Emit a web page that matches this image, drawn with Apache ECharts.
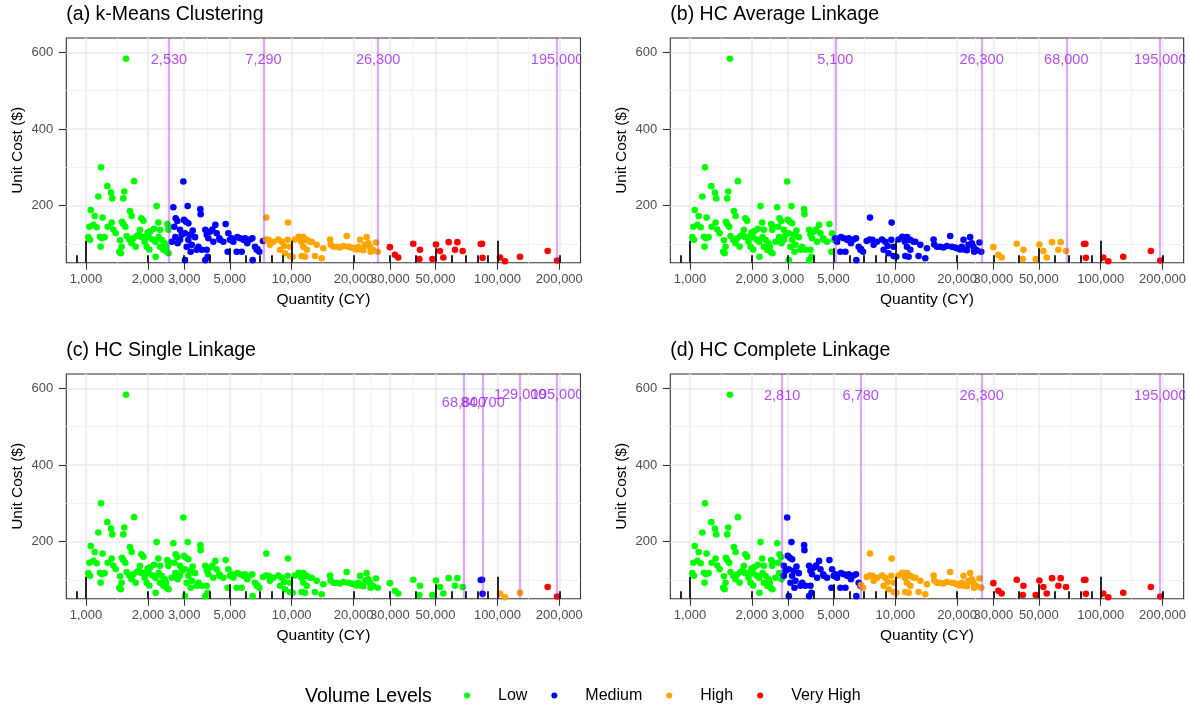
<!DOCTYPE html>
<html><head><meta charset="utf-8">
<script src="https://cdn.jsdelivr.net/npm/echarts@6/dist/echarts.min.js"></script>
<style>html,body{margin:0;padding:0;background:#fff}#chart{width:1189px;height:710px}</style>
</head><body><div id="chart"></div>
<script>
// ---------------- data ----------------
const quantity = [
 1183,1270,1323,1343,1148,1054,1102,1205,1086,1038,1026,1046,1170,1196,1232,1178,1127,1275,1333,1358,
 1394,1496,1518,1553,1536,1518,1712,1636,1667,1858,1900,1830,1763,1865,1921,1994,2024,2062,2141,2206,
 2247,2290,2109,2173,2256,2333,2412,2448,2486,2514,2520,1463,1490,1452,1576,1624,1667,1699,1744,1810,
 1928,1972,2032,2181,2290,2377,2467,2520,1565,1475,
 2658,2973,3121,2729,2780,2688,2864,2995,3063,3144,3029,3203,3300,3388,2719,2609,2790,3086,3227,3451,
 3596,3609,3650,3803,3861,3933,4007,4113,4254,4318,4449,4652,4775,4920,5107,5203,5441,5608,5930,6271,
 6436,6631,6806,6960,3861,3904,4883,5400,5713,6460,7250,3029,3803,2864,2920,3144,3265,3520,4160,4480,
 5010,5820,6760,6080,
 7528,9594,7500,7727,8141,8610,8937,9175,9559,9811,10375,10810,11140,11390,11830,12270,12980,11180,11610,9811,
 7840,8770,9270,10110,11400,11610,12510,13230,11830,13990,14250,15360,15470,15940,16540,17170,17820,18500,18850,19560,
 19930,20690,21480,21640,22300,23140,23580,24200,24940,25690,26200,21060,22700,24000,24500,
 30010,31740,32940,39000,41740,42050,48280,50290,52590,54590,57960,62220,63860,67790,83000,84200,84700,102950,108880,128800,
 175500,195000
];
const unitCost = [
 300,251,234,219,224,189,173,169,150,145,118,111,119,115,118,93,144,145,156,138,
 128,158,152,145,237,219,264,186,173,167,161,137,121,118,118,130,118,134,140,199,
 156,137,112,106,118,111,102,93,152,137,147,110,93,80,121,111,102,115,93,124,
 106,93,86,67,93,85,80,76,583,76,
 196,263,199,167,160,145,137,163,158,154,128,124,135,118,118,106,102,93,80,85,
 191,178,85,137,124,115,132,138,150,128,115,106,152,128,115,106,118,115,115,112,
 115,93,87,80,85,67,80,80,80,58,108,58,58,111,124,111,98,93,106,111,
 111,111,85,102,
 169,156,112,111,106,112,106,95,111,93,112,119,106,93,111,106,69,69,67,69,
 98,85,76,67,118,111,106,98,85,63,89,112,99,93,93,91,95,121,93,91,
 89,86,111,86,84,118,102,80,84,104,80,93,98,93,86,
 92,72,65,101,61,85,61,99,82,65,105,85,105,82,100,101,64,65,55,67,
 82,57
];
const panelTitles = ['(a) k-Means Clustering','(b) HC Average Linkage','(c) HC Single Linkage','(d) HC Complete Linkage'];
const cutsA = [2530, 7290, 26300, 195000];
const cutsB = [5100, 26300, 68000, 195000];
const cutsC = [68800, 84700, 129000, 195000];
const cutsD = [2810, 6780, 26300, 195000];
const cutLabelCost = [[580,580,580,580],[580,580,580,580],[562,562,582,582],[580,580,580,580]];
const levels = ['Low','Medium','High','Very High'];
const levelColors = ['#00FF00','#0000FF','#FFA500','#FF0000'];
const xTickValues = [1000,2000,3000,5000,10000,20000,30000,50000,100000,200000];
const yTickValues = [200,400,600];
const yMinorValues = [100,300,500];
const legendTitle = 'Volume Levels';
const xName = 'Quantity (CY)';
const yName = 'Unit Cost ($)';

// ---------------- layout ----------------
const FONT = "'Liberation Sans', Arial, sans-serif";
const X_MIN = 802, X_MAX = 253500, Y_MIN = 51.4, Y_MAX = 637.3;
const PW = 514.2, PH = 224.7;
const panelPos = [[66.3, 38], [670.3, 38], [66.3, 374], [670.3, 374]];
const allCuts = [cutsA, cutsB, cutsC, cutsD];

const fmt = v => String(Math.round(v)).replace(/\B(?=(\d{3})+(?!\d))/g, ',');
const xMinorValues = xTickValues.slice(1).map((v, i) => Math.sqrt(v * xTickValues[i]));
const logShort = [], logMid = [], logLong = [];
for (let k = 2; k <= 5; k++) {
  for (let m = 1; m <= 9; m++) {
    const v = m * Math.pow(10, k);
    if (v < X_MIN || v > X_MAX) continue;
    if (m === 1) logLong.push(v); else if (m === 5) logMid.push(v); else logShort.push(v);
  }
}
function levelOf(q, cuts) {
  if (q <= cuts[0]) return 0;
  if (q <= cuts[1]) return 1;
  if (q <= cuts[2]) return 2;
  return 3;
}

const grid = [], xAxis = [], yAxis = [], series = [], title = [];
panelPos.forEach(([l, t], p) => {
  grid.push({left: l, top: t, width: PW, height: PH, show: true, borderColor: '#333333', borderWidth: 1.1, backgroundColor: '#fff'});
  title.push({text: panelTitles[p], left: l, top: t - 33, padding: 0,
    textStyle: {fontFamily: FONT, fontSize: 19.5, fontWeight: 'normal', color: '#000'}});
  const base = {gridIndex: p, type: 'log', logBase: 10, min: X_MIN, max: X_MAX, position: 'bottom'};
  xAxis.push(Object.assign({}, base, {
    axisLine: {show: false},
    axisTick: {show: true, length: 7, customValues: xTickValues, lineStyle: {color: '#333333', width: 1.1}},
    axisLabel: {show: true, customValues: xTickValues, formatter: v => fmt(v), color: '#4D4D4D', fontSize: 13, fontFamily: FONT, margin: 10},
    splitLine: {show: true, lineStyle: {color: '#EBEBEB', width: 1.6}},
    name: xName, nameLocation: 'middle', nameGap: 29,
    nameTextStyle: {fontFamily: FONT, fontSize: 15.5, color: '#000'}
  }));
  xAxis.push(Object.assign({}, base, {
    axisLine: {show: false}, axisLabel: {show: false},
    axisTick: {show: false, customValues: xMinorValues},
    splitLine: {show: true, lineStyle: {color: '#F2F2F2', width: 0.9}}
  }));
  [[logShort, 7.5], [logMid, 14.5], [logLong, 22]].forEach(([vals, len]) => {
    xAxis.push(Object.assign({}, base, {
      z: 10,
      axisLine: {show: false}, axisLabel: {show: false}, splitLine: {show: false},
      axisTick: {show: true, inside: true, length: len, customValues: vals, lineStyle: {color: '#000', width: 1.7}}
    }));
  });
  yAxis.push({gridIndex: p, type: 'value', min: Y_MIN, max: Y_MAX,
    axisLine: {show: false},
    axisTick: {show: true, length: 7.5, customValues: yTickValues, lineStyle: {color: '#333333', width: 1.1}},
    axisLabel: {show: true, customValues: yTickValues, color: '#4D4D4D', fontSize: 13, fontFamily: FONT, margin: 13},
    splitLine: {show: true, lineStyle: {color: '#EBEBEB', width: 1.6}},
    name: yName, nameLocation: 'middle', nameGap: 41, nameRotate: 90,
    nameTextStyle: {fontFamily: FONT, fontSize: 15.5, color: '#000'}
  });
  yAxis.push({gridIndex: p, type: 'value', min: Y_MIN, max: Y_MAX,
    axisLine: {show: false}, axisLabel: {show: false},
    axisTick: {show: false, customValues: yMinorValues},
    splitLine: {show: true, lineStyle: {color: '#F2F2F2', width: 0.9}}
  });
  const cuts = allCuts[p];
  levels.forEach((lv, li) => {
    const data = [];
    quantity.forEach((q, i) => { if (levelOf(q, cuts) === li) data.push([q, unitCost[i]]); });
    series.push({type: 'scatter', name: lv, xAxisIndex: p * 5, yAxisIndex: p * 2, data,
      symbol: 'circle', symbolSize: 6.6, itemStyle: {color: levelColors[li], opacity: 1}, z: 2, silent: true});
  });
  series.push({type: 'scatter', xAxisIndex: p * 5, yAxisIndex: p * 2, z: 4, silent: true,
    data: cuts.map((c, i) => [c, cutLabelCost[p][i]]),
    symbolSize: 1, itemStyle: {color: 'rgba(0,0,0,0)'},
    label: {show: true, position: 'inside', formatter: prm => fmt(prm.value[0]), color: '#A020F0', fontSize: 14.5, fontFamily: FONT},
    markLine: {silent: true, symbol: 'none', label: {show: false},
      lineStyle: {color: 'rgba(160,32,240,0.38)', width: 2.3, type: 'solid'},
      data: cuts.map(c => ({xAxis: c}))}
  });
});

const graphic = [
  {type: 'rect', z: 100, shape: {x: 581.2, y: 30, width: 30, height: 240}, style: {fill: '#fff'}},
  {type: 'rect', z: 100, shape: {x: 581.2, y: 366, width: 30, height: 240}, style: {fill: '#fff'}},
  {type: 'rect', z: 100, shape: {x: 1185.2, y: 30, width: 10, height: 240}, style: {fill: '#fff'}},
  {type: 'rect', z: 100, shape: {x: 1185.2, y: 366, width: 10, height: 240}, style: {fill: '#fff'}},
  {type: 'text', x: 305, y: 697, z: 100, style: {text: legendTitle, fontSize: 19.5, fontFamily: FONT, fill: '#000', verticalAlign: 'middle'}}
];

const chart = echarts.init(document.getElementById('chart'), null, {renderer: 'canvas'});
chart.setOption({
  animation: false,
  backgroundColor: '#fff',
  title, grid, xAxis, yAxis, series, graphic,
  legend: {data: levels, left: 464, top: 687.5, padding: 0, icon: 'circle', itemWidth: 6, itemHeight: 6, itemGap: 24,
    textStyle: {fontFamily: FONT, fontSize: 16, color: '#000', padding: [0, 0, 0, 23]}}
});
</script></body></html>
